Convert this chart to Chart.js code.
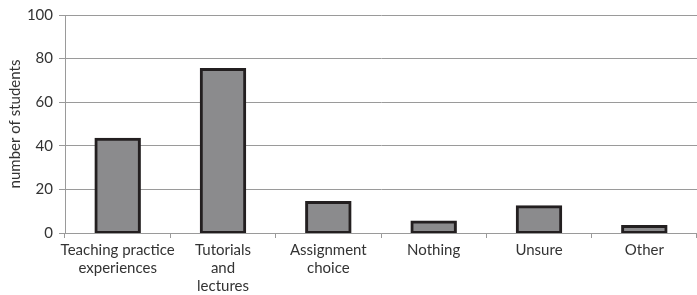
<!DOCTYPE html>
<html>
<head>
<meta charset="utf-8">
<style>
  html, body { margin: 0; padding: 0; background: #fff; }
  #wrap { width: 697px; height: 295px; }
</style>
<script src="https://cdn.jsdelivr.net/npm/chart.js@4.4.1/dist/chart.umd.min.js"></script>
</head>
<body>
<div id="wrap"><canvas id="myChart" width="697" height="295"></canvas></div>
<script>
const categories = [
  ["Teaching practice", "experiences"],
  ["Tutorials", "and", "lectures"],
  ["Assignment", "choice"],
  "Nothing",
  "Unsure",
  "Other",
];
const students = [43, 75, 14, 5, 12, 3];
const yTicks = [0, 20, 40, 60, 80, 100];

const labelFont = { family: "Lato, 'Open Sans', sans-serif", size: 15 };

new Chart("myChart", {
  type: "bar",
  data: {
    labels: categories,
    datasets: [
      {
        data: students,
        backgroundColor: "#8b8b8d",
        borderColor: "#231f20",
        borderWidth: 3,
        borderSkipped: false,
        inflateAmount: 1.5,
        barPercentage: 0.48,
        categoryPercentage: 0.86,
      },
    ],
  },
  options: {
    responsive: false,
    animation: false,
    layout: { padding: { top: 2, right: 0, left: 0, bottom: 0 } },
    plugins: { legend: { display: false }, tooltip: { enabled: false } },
    scales: {
      x: {
        grid: {
          offset: true,
          drawOnChartArea: false,
          drawTicks: true,
          tickLength: 5,
          color: "#9a9a9a",
        },
        border: { display: true, color: "#9a9a9a" },
        ticks: { color: "#333", font: labelFont, maxRotation: 0, autoSkip: false, padding: 3 },
        afterFit: (s) => { s.height = 62; },
      },
      y: {
        min: 0,
        max: 100,
        afterBuildTicks: (s) => { s.ticks = yTicks.map((v) => ({ value: v })); },
        grid: { color: "#9a9a9a", tickLength: 6 },
        border: { display: true, color: "#9a9a9a" },
        ticks: { color: "#333", font: labelFont, padding: 6 },
        title: {
          display: true,
          text: "number of students",
          color: "#333",
          font: { family: "Lato, 'Open Sans', sans-serif", size: 15 },
          padding: { top: 6, bottom: 0 },
        },
        afterFit: (s) => { s.width = 65; },
      },
    },
  },
});
</script>
</body>
</html>
